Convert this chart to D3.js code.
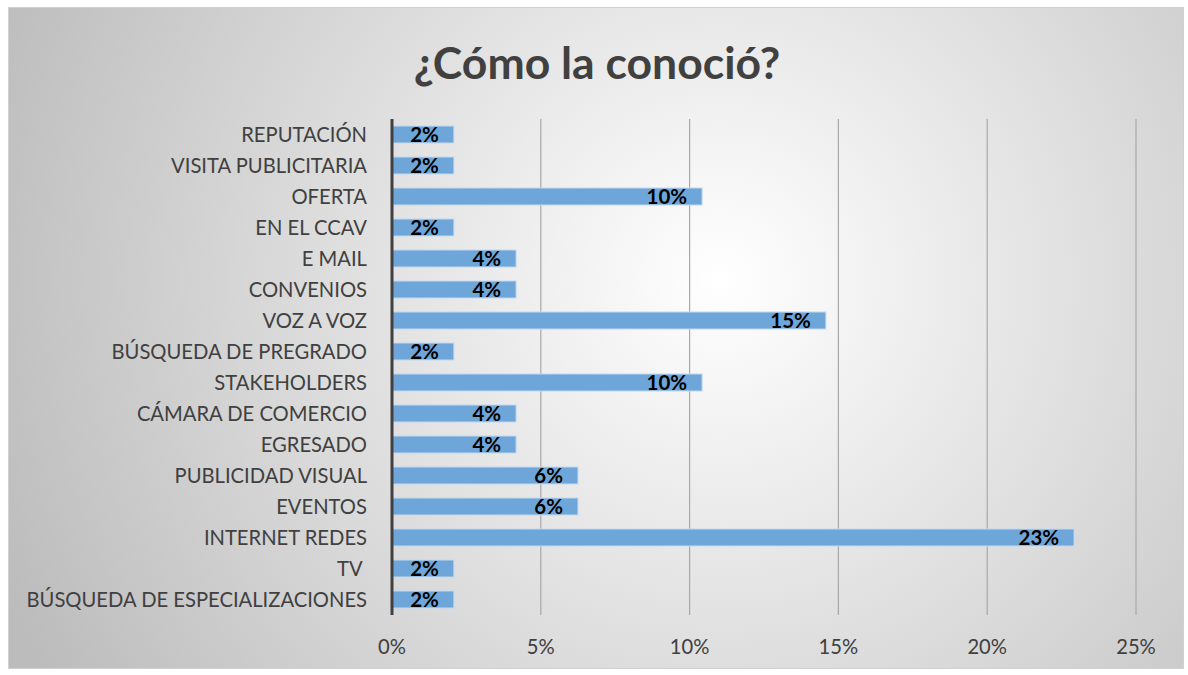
<!DOCTYPE html>
<html>
<head>
<meta charset="utf-8">
<script src="https://cdn.jsdelivr.net/npm/d3@7"></script>
<style>
  html, body { margin: 0; padding: 0; background: #fff; }
  svg { display: block; font-family: Lato, "Open Sans", sans-serif; }
</style>
</head>
<body>
<div id="chart"></div>
<script>
const categories = [
  "REPUTACIÓN", "VISITA PUBLICITARIA", "OFERTA", "EN EL CCAV", "E MAIL",
  "CONVENIOS", "VOZ A VOZ", "BÚSQUEDA DE PREGRADO", "STAKEHOLDERS",
  "CÁMARA DE COMERCIO", "EGRESADO", "PUBLICIDAD VISUAL", "EVENTOS",
  "INTERNET REDES", "TV ", "BÚSQUEDA DE ESPECIALIZACIONES"
];
const values = [2.08, 2.08, 10.42, 2.08, 4.17, 4.17, 14.58, 2.08, 10.42, 4.17, 4.17, 6.25, 6.25, 22.92, 2.08, 2.08];
const labels = ["2%", "2%", "10%", "2%", "4%", "4%", "15%", "2%", "10%", "4%", "4%", "6%", "6%", "23%", "2%", "2%"];
const ticks = [0, 5, 10, 15, 20, 25];
const title = "¿Cómo la conoció?";

const W = 1188, H = 675;
const svg = d3.select("#chart").append("svg")
  .attr("width", W).attr("height", H);

const defs = svg.append("defs");
const bg = defs.append("radialGradient")
  .attr("id", "bg")
  .attr("gradientUnits", "userSpaceOnUse")
  .attr("cx", 720).attr("cy", 280).attr("r", 780);
bg.append("stop").attr("offset", "0%").attr("stop-color", "#ffffff");
bg.append("stop").attr("offset", "100%").attr("stop-color", "#bcbcbc");

svg.append("rect")
  .attr("x", 8.5).attr("y", 7.5).attr("width", 1175).attr("height", 661)
  .attr("fill", "url(#bg)").attr("stroke", "#d0d0d0");

const x = d3.scaleLinear().domain([0, 25]).range([392, 1136]);
const y = d3.scaleBand().domain(categories).range([119, 615]).paddingInner(0.45).paddingOuter(0.225);

// gridlines
svg.append("g")
  .selectAll("line")
  .data(ticks.filter(t => t > 0))
  .join("line")
  .attr("x1", d => x(d)).attr("x2", d => x(d))
  .attr("y1", 119).attr("y2", 615)
  .attr("stroke", "#a8a8a8").attr("stroke-width", 1.2);

// bars
svg.append("g")
  .selectAll("rect")
  .data(values)
  .join("rect")
  .attr("x", x(0))
  .attr("y", (d, i) => y(categories[i]))
  .attr("width", d => x(d) - x(0))
  .attr("height", y.bandwidth())
  .attr("fill", "#6fa6da")
  .attr("stroke", "#c5dcf1")
  .attr("stroke-width", 1);

// value labels
svg.append("g")
  .selectAll("text")
  .data(values)
  .join("text")
  .attr("x", d => x(d) - 15)
  .attr("y", (d, i) => y(categories[i]) + y.bandwidth() / 2)
  .attr("dy", "0.36em")
  .attr("text-anchor", "end")
  .attr("font-size", 20.5)
  .attr("font-weight", 700)
  .attr("fill", "#000")
  .text((d, i) => labels[i]);

// category axis
svg.append("line")
  .attr("x1", x(0)).attr("x2", x(0))
  .attr("y1", 119).attr("y2", 615)
  .attr("stroke", "#404040").attr("stroke-width", 3);

svg.append("g")
  .selectAll("text")
  .data(categories)
  .join("text")
  .attr("x", 367)
  .attr("y", d => y(d) + y.bandwidth() / 2)
  .attr("dy", "0.36em")
  .attr("text-anchor", "end")
  .attr("font-size", 20.2)
  .attr("fill", "#404040")
  .style("white-space", "pre")
  .text(d => d);

// value axis labels
svg.append("g")
  .selectAll("text")
  .data(ticks)
  .join("text")
  .attr("x", d => x(d))
  .attr("y", 647)
  .attr("dy", "0.36em")
  .attr("text-anchor", "middle")
  .attr("font-size", 20.2)
  .attr("fill", "#404040")
  .text(d => d + "%");

svg.append("text")
  .attr("x", 597).attr("y", 79)
  .attr("text-anchor", "middle")
  .attr("font-size", 44.5)
  .attr("font-weight", 700)
  .attr("fill", "#404040")
  .text(title);
</script>
</body>
</html>
